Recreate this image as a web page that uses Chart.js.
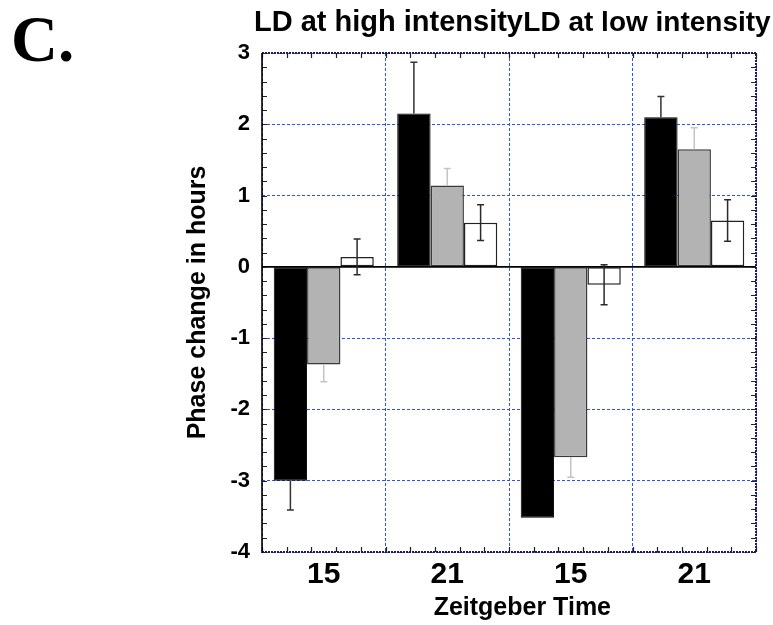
<!DOCTYPE html>
<html>
<head>
<meta charset="utf-8">
<script src="https://cdn.jsdelivr.net/npm/chart.js@4.4.1/dist/chart.umd.min.js"></script>
<style>
  html, body { margin: 0; padding: 0; background: #fff; }
  canvas { display: block; }
</style>
</head>
<body>
<canvas id="c" width="773" height="625"></canvas>
<script>
// Zeitgeber times for the two light conditions (high, then low intensity)
const categories = ['15', '21', '15', '21'];

// Mean phase shifts (hours) and their error bars, one array per group
const solidMeans  = [-3.0, 2.15, -3.52, 2.10];
const solidErrors = [0.41, 0.72, 0, 0.29];
const greyMeans   = [-1.37, 1.14, -2.67, 1.65];
const greyErrors  = [0.24, 0.24, 0.28, 0.30];
const openMeans   = [0.14, 0.62, -0.25, 0.65];
const openErrors  = [0.25, 0.25, 0.28, 0.29];

const yTicks = [3, 2, 1, 0, -1, -2, -3, -4];
const panelTitles = ['LD at high intensity', 'LD at low intensity'];
const xTitle = 'Zeitgeber Time';
const yTitle = 'Phase change in hours';
const panelLetter = 'C.';

const SANS = '"Liberation Sans", Arial, Helvetica, sans-serif';
const SERIF = '"Liberation Serif", "Times New Roman", serif';
const GRID_BLUE = 'rgb(45, 80, 250)';
const FRAME_NAVY = '#1d1d52';

// Error bars: one-sided (away from zero) for filled bars, two-sided for open bars
const errorBars = {
  id: 'errorBars',
  afterDatasetsDraw(chart) {
    const { ctx, scales: { y } } = chart;
    const area = chart.chartArea;
    // zero line across the plot
    ctx.save();
    ctx.strokeStyle = '#000';
    ctx.lineWidth = 1.6;
    ctx.beginPath();
    ctx.moveTo(area.left, y.getPixelForValue(0));
    ctx.lineTo(area.right, y.getPixelForValue(0));
    ctx.stroke();

    chart.data.datasets.forEach((ds, di) => {
      const meta = chart.getDatasetMeta(di);
      meta.data.forEach((bar, i) => {
        const v = ds.data[i];
        const e = ds.errors[i];
        if (!e) return;
        const dir = v < 0 ? -1 : 1;
        const ends = ds.twoSided ? [v - e, v + e] : [v + dir * e];
        const from = ds.twoSided ? v - e : v;
        const to = ds.twoSided ? v + e : v + dir * e;
        ctx.strokeStyle = ds.errorColor;
        ctx.lineWidth = 1.5;
        ctx.beginPath();
        ctx.moveTo(bar.x, y.getPixelForValue(from));
        ctx.lineTo(bar.x, y.getPixelForValue(to));
        ends.forEach(val => {
          const py = y.getPixelForValue(val);
          ctx.moveTo(bar.x - 3.5, py);
          ctx.lineTo(bar.x + 3.5, py);
        });
        ctx.stroke();
      });
    });
    ctx.restore();
  }
};

// Plot frame plus small inward minor ticks on all four sides
const frame = {
  id: 'frame',
  afterDatasetsDraw(chart) {
    const { ctx, scales: { x, y } } = chart;
    const a = chart.chartArea;
    ctx.save();
    // minor ticks
    ctx.strokeStyle = '#222';
    ctx.lineWidth = 1.2;
    ctx.beginPath();
    const yMin = Math.min(...yTicks), yMax = Math.max(...yTicks);
    for (let k = yMin * 5; k <= yMax * 5; k++) {
      const py = Math.round(y.getPixelForValue(k / 5)) + 0.5;
      ctx.moveTo(a.left, py); ctx.lineTo(a.left + 5, py);
      ctx.moveTo(a.right, py); ctx.lineTo(a.right - 5, py);
    }
    for (let k = 0; k <= categories.length * 5; k++) {
      const px = Math.round(x.getPixelForValue(-0.5 + k / 5)) + 0.5;
      ctx.moveTo(px, a.bottom); ctx.lineTo(px, a.bottom - 5);
      ctx.moveTo(px, a.top); ctx.lineTo(px, a.top + 5);
    }
    ctx.stroke();

    // dotted navy top, right and bottom edges
    ctx.strokeStyle = FRAME_NAVY;
    ctx.lineWidth = 2;
    ctx.setLineDash([2, 1]);
    ctx.beginPath();
    ctx.moveTo(a.left, a.top); ctx.lineTo(a.right, a.top);
    ctx.lineTo(a.right, a.bottom); ctx.lineTo(a.left, a.bottom);
    ctx.stroke();
    // solid left axis
    ctx.setLineDash([]);
    ctx.strokeStyle = '#000';
    ctx.lineWidth = 1.6;
    ctx.beginPath();
    ctx.moveTo(a.left, a.top); ctx.lineTo(a.left, a.bottom + 1);
    ctx.stroke();
    ctx.restore();
  }
};

// Panel letter, the two condition headings and the x-axis title
const labels = {
  id: 'labels',
  afterDraw(chart) {
    const { ctx } = chart;
    const a = chart.chartArea;
    const w = a.right - a.left;
    ctx.save();
    ctx.fillStyle = '#000';
    ctx.textBaseline = 'alphabetic';

    ctx.font = 'bold 65px ' + SERIF;
    ctx.textAlign = 'left';
    ctx.fillText(panelLetter, 11, 61);

    ctx.font = 'bold 29px ' + SANS;
    ctx.textAlign = 'center';
    ctx.fillText(panelTitles[0], a.left + 0.256 * w, 31);
    ctx.font = 'bold 28px ' + SANS;
    ctx.textAlign = 'left';
    ctx.fillText(panelTitles[1], a.left + 0.529 * w, 31);

    ctx.font = 'bold 25px ' + SANS;
    ctx.textAlign = 'center';
    ctx.fillText(xTitle, a.left + 0.527 * w, 615);
    ctx.restore();
  }
};

new Chart(document.getElementById('c'), {
  type: 'bar',
  data: {
    labels: categories,
    datasets: [
      {
        data: solidMeans, errors: solidErrors, twoSided: false, errorColor: '#333',
        backgroundColor: '#000', borderColor: '#000', borderWidth: 1, borderSkipped: false
      },
      {
        data: greyMeans, errors: greyErrors, twoSided: false, errorColor: '#c4c4c4',
        backgroundColor: '#b3b3b3', borderColor: '#3a3a3a', borderWidth: 1.5, borderSkipped: false
      },
      {
        data: openMeans, errors: openErrors, twoSided: true, errorColor: '#2a2a2a',
        backgroundColor: '#fff', borderColor: '#222', borderWidth: 1.5, borderSkipped: false
      }
    ]
  },
  options: {
    responsive: false,
    animation: false,
    devicePixelRatio: 1,
    layout: { padding: { left: 180, top: 53, right: 17, bottom: 0 } },
    datasets: { bar: { categoryPercentage: 0.81, barPercentage: 1.0 } },
    plugins: { legend: { display: false }, tooltip: { enabled: false } },
    scales: {
      x: {
        offset: true,
        grid: { offset: true, color: GRID_BLUE, lineWidth: 1, drawTicks: false },
        border: { display: false, dash: [3, 2] },
        ticks: {
          color: '#000', padding: 5, maxRotation: 0,
          font: { family: SANS, size: 30, weight: 'bold' }
        },
        afterFit(scale) { scale.height = 73; }
      },
      y: {
        min: Math.min(...yTicks),
        max: Math.max(...yTicks),
        grid: { color: GRID_BLUE, lineWidth: 1, drawTicks: false },
        border: { display: false, dash: [3, 2] },
        ticks: {
          stepSize: 1, color: '#000', padding: 12,
          font: { family: SANS, size: 22, weight: 'bold' }
        },
        title: {
          display: true, text: yTitle, color: '#000',
          font: { family: SANS, size: 25, weight: 'bold' },
          padding: { top: 3, bottom: 0 }
        },
        afterFit(scale) { scale.width = 82; }
      }
    }
  },
  plugins: [errorBars, frame, labels]
});
</script>
</body>
</html>
